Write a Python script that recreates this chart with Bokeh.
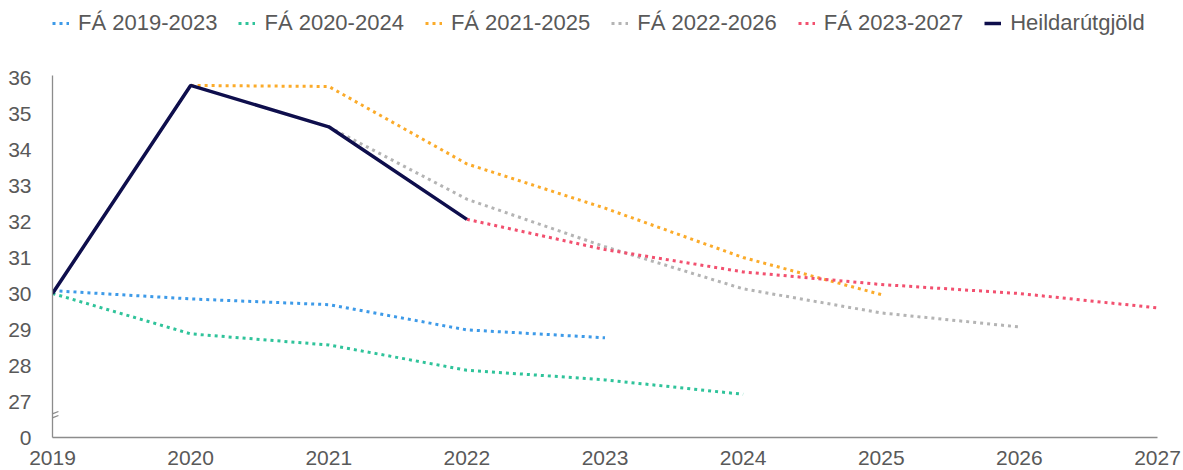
from bokeh.plotting import figure
from bokeh.models import Legend, LegendItem, FixedTicker, Range1d
from bokeh.embed import file_html
from bokeh.resources import INLINE

years_all = [2019, 2020, 2021, 2022, 2023, 2024, 2025, 2026, 2027]

fa1923_x = [2019, 2020, 2021, 2022, 2023]
fa1923_y = [30.08, 29.85, 29.69, 28.99, 28.77]

fa2024_x = [2019, 2020, 2021, 2022, 2023, 2024]
fa2024_y = [30.0, 28.88, 28.57, 27.87, 27.6, 27.2]

fa2125_x = [2020, 2021, 2022, 2023, 2024, 2025]
fa2125_y = [35.78, 35.75, 33.6, 32.37, 31.0, 29.97]

fa2226_x = [2021, 2022, 2023, 2024, 2025, 2026]
fa2226_y = [34.63, 32.62, 31.3, 30.13, 29.46, 29.07]

fa2327_x = [2022, 2023, 2024, 2025, 2026, 2027]
fa2327_y = [32.06, 31.22, 30.6, 30.25, 30.0, 29.6]

heild_x = [2019, 2020, 2021, 2022]
heild_y = [30.0, 35.78, 34.63, 32.06]

y_ticks = [26, 27, 28, 29, 30, 31, 32, 33, 34, 35, 36]
y_labels = {26: "0"}

series_names = ["FÁ 2019-2023", "FÁ 2020-2024", "FÁ 2021-2025",
                "FÁ 2022-2026", "FÁ 2023-2027", "Heildarútgjöld"]
colors = ["#3d9ae8", "#2fc39a", "#fbab2a", "#b4b4b4", "#f2506f", "#0e0e4c"]

FONT = "Liberation Sans"
TXT = "#595959"
AXC = "#8c8c8c"
DASH = "3 4"

# frame spans from the top of the canvas; the y axis line is limited with bounds
p = figure(width=1183, height=470, output_backend="svg", toolbar_location=None,
           x_range=Range1d(2019, 2027), y_range=Range1d(26, 26 + 437 / 36),
           min_border_left=52, min_border_right=26, min_border_top=0, min_border_bottom=33)
p.outline_line_color = None
p.xgrid.visible = False
p.ygrid.visible = False

for ax in (p.xaxis[0], p.yaxis[0]):
    ax.axis_line_color = AXC
    ax.axis_line_width = 1.3
    ax.major_tick_line_color = None
    ax.minor_tick_line_color = None
    ax.major_label_text_font = FONT
    ax.major_label_text_font_size = "21px"
    ax.major_label_text_color = TXT

p.xaxis.ticker = FixedTicker(ticks=years_all)
p.xaxis.major_label_standoff = 7
p.yaxis.ticker = FixedTicker(ticks=y_ticks)
p.yaxis.major_label_overrides = {k: v for k, v in y_labels.items()}
p.yaxis.major_label_standoff = 15
p.yaxis.bounds = (26, 36.05)

r1 = p.line(fa1923_x, fa1923_y, line_color=colors[0], line_width=3, line_dash=DASH)
r2 = p.line(fa2024_x, fa2024_y, line_color=colors[1], line_width=3, line_dash=DASH)
r3 = p.line(fa2125_x, fa2125_y, line_color=colors[2], line_width=3, line_dash=DASH)
r4 = p.line(fa2226_x, fa2226_y, line_color=colors[3], line_width=3, line_dash=DASH)
r5 = p.line(fa2327_x, fa2327_y, line_color=colors[4], line_width=3, line_dash=DASH)
r6 = p.line(heild_x, heild_y, line_color=colors[5], line_width=3.5)

# axis break marks
p.segment(x0=[2018.949, 2018.949], y0=[26.583, 26.472], x1=[2019.043, 2019.043], y1=[26.722, 26.611],
          line_color=AXC, line_width=1.3)

renderers = [r1, r2, r3, r4, r5, r6]
legend = Legend(items=[LegendItem(label=nm, renderers=[rr]) for nm, rr in zip(series_names, renderers)],
                orientation="horizontal", location=(0, 401))
legend.label_text_font = FONT
legend.label_text_font_size = "22px"
legend.label_text_color = TXT
legend.background_fill_alpha = 0
legend.border_line_color = None
legend.glyph_width = 17
legend.label_standoff = 9
legend.spacing = 21
legend.padding = 0
legend.margin = 0
p.add_layout(legend)

open("out.html", "w").write(file_html(p, INLINE))
